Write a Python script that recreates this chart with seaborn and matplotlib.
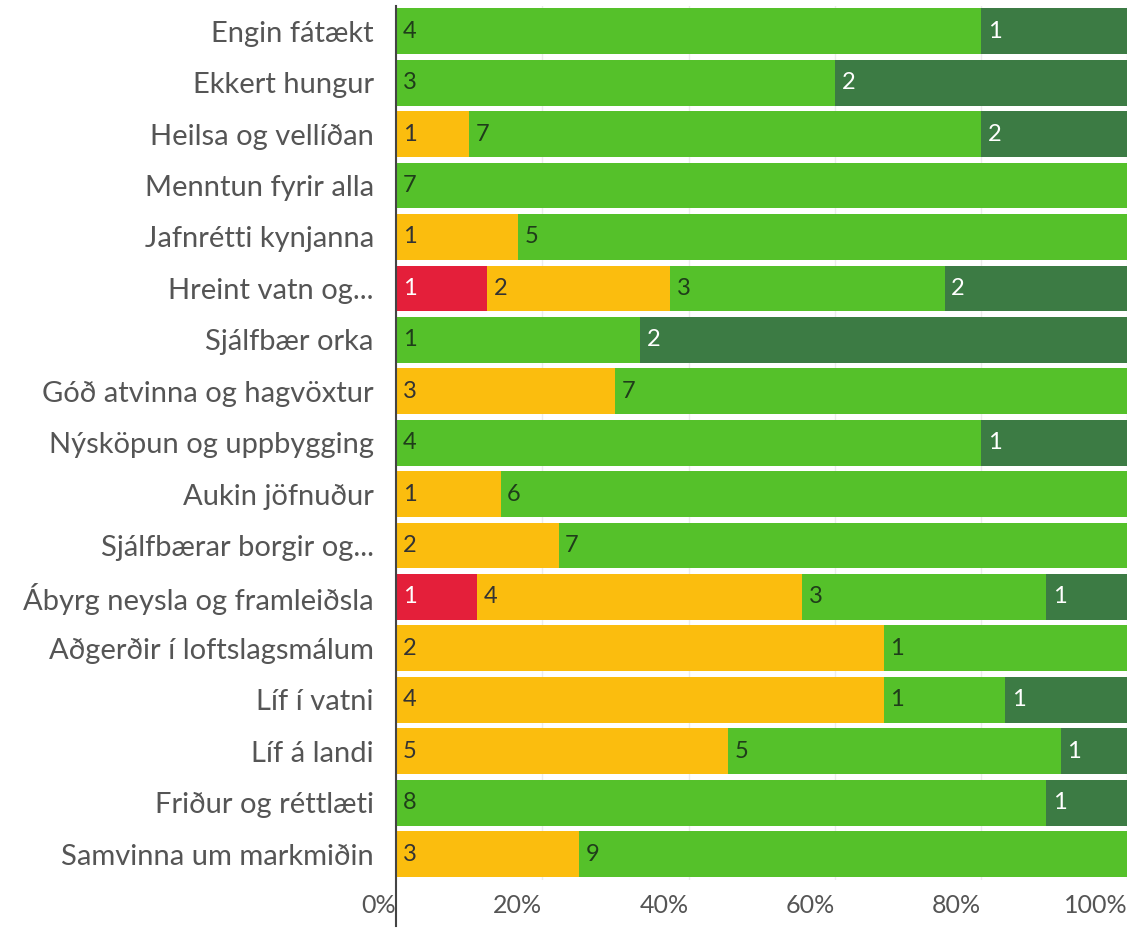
import numpy as np
import pandas as pd
import matplotlib
matplotlib.use("Agg")
import matplotlib.pyplot as plt
import seaborn as sns

categories = ["Engin fátækt", "Ekkert hungur", "Heilsa og vellíðan", "Menntun fyrir alla",
              "Jafnrétti kynjanna", "Hreint vatn og...", "Sjálfbær orka",
              "Góð atvinna og hagvöxtur", "Nýsköpun og uppbygging", "Aukin jöfnuður",
              "Sjálfbærar borgir og...", "Ábyrg neysla og framleiðsla",
              "Aðgerðir í loftslagsmálum", "Líf í vatni", "Líf á landi",
              "Friður og réttlæti", "Samvinna um markmiðin"]
red = [0, 0, 0, 0, 0, 1, 0, 0, 0, 0, 0, 1, 0, 0, 0, 0, 0]
yellow = [0, 0, 1, 0, 1, 2, 0, 3, 0, 1, 2, 4, 2, 4, 5, 0, 3]
green = [4, 3, 7, 7, 5, 3, 1, 7, 4, 6, 7, 3, 1, 1, 5, 8, 9]
darkgreen = [1, 2, 2, 0, 0, 2, 2, 0, 1, 0, 0, 1, 0, 1, 1, 1, 0]
tick_labels = ["0%", "20%", "40%", "60%", "80%", "100%"]

series = [("red", red, "#e41f3a", "white"),
          ("yellow", yellow, "#fbbd0e", "#333333"),
          ("green", green, "#55c12a", "#1f3d1a"),
          ("darkgreen", darkgreen, "#3c7b44", "white")]

counts = np.array([red, yellow, green, darkgreen], dtype=float)
totals = counts.sum(axis=0)
pct = counts / totals * 100
cum = np.cumsum(pct, axis=0)
starts = cum - pct

plt.rcParams['font.family'] = ['Lato', 'DejaVu Sans']
fig = plt.figure(figsize=(11.48, 9.30), dpi=100)
ax = fig.add_axes([0.345, 0.054, 0.637, 0.94])

# draw cumulative bars from the right-most layer down
for i in range(3, -1, -1):
    df = pd.DataFrame({"cat": categories, "val": cum[i]})
    sns.barplot(data=df, x="val", y="cat", orient="h", color=series[i][2],
                saturation=1, width=0.89, ax=ax, linewidth=0, zorder=2)

for i, (name, vals, col, tcol) in enumerate(series):
    for j, v in enumerate(vals):
        if v > 0:
            ax.text(starts[i, j] + 0.9, j, str(v), va="center", ha="left",
                    fontsize=17, color=tcol, zorder=3)

ax.set_xlim(0, 100)
ax.set_ylim(len(categories) - 0.5, -0.5)
ax.set_xlabel("")
ax.set_ylabel("")
ax.set_xticks([0, 20, 40, 60, 80, 100])
ax.set_xticklabels(tick_labels)
for lbl in ax.get_xticklabels():
    lbl.set_ha("right")
ax.tick_params(axis="x", length=0, pad=10, labelsize=18, labelcolor="#555555")
ax.tick_params(axis="y", length=0, pad=16, labelsize=21, labelcolor="#555555")
ax.grid(axis="x", color="#ececec", linewidth=1, zorder=0)
ax.set_axisbelow(True)
for s in ["top", "right", "bottom"]:
    ax.spines[s].set_visible(False)
ax.spines["left"].set_color("#444444")
ax.spines["left"].set_linewidth(1.5)
ax.spines["left"].set_zorder(5)
ax.spines["left"].set_bounds(-0.5, len(categories) - 0.5 + 0.9)
ax.spines["left"].set_clip_on(False)

fig.savefig("out.png", dpi=100)
